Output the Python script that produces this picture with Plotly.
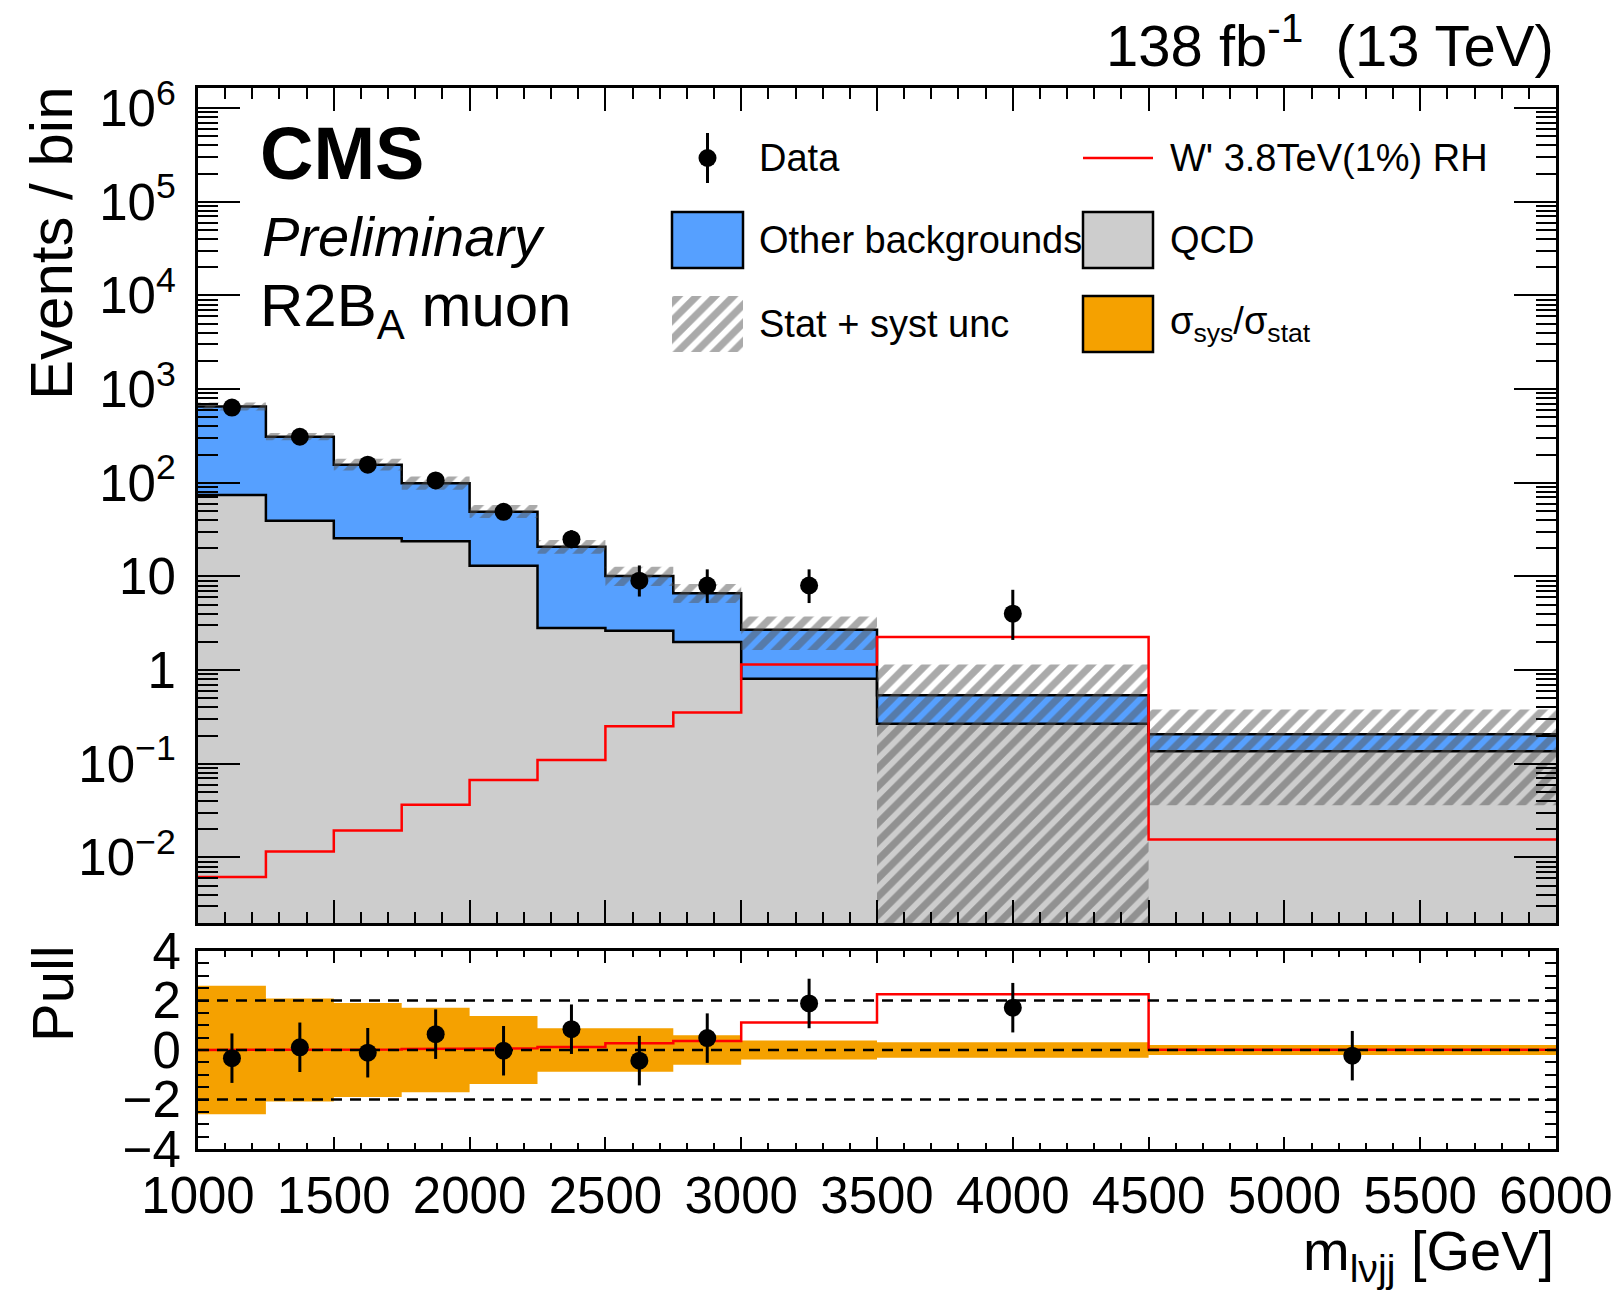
import plotly.graph_objects as go

# ---------------- data ----------------
bin_edges = [1000, 1250, 1500, 1750, 2000, 2250, 2500, 2750, 3000, 3500, 4500, 6000]
qcd = [74.0, 39.3, 25.5, 23.8, 13.0, 2.82, 2.63, 2.00, 0.81, 0.268, 0.136]
total_bkg = [653, 310, 156, 99, 49, 20.7, 10.1, 6.6, 2.69, 0.54, 0.206]
unc_hi = [720, 340, 180, 117, 58, 24.5, 12.7, 8.3, 3.73, 1.15, 0.38]
unc_lo = [590, 285, 135, 84, 42, 17.5, 7.9, 5.2, 1.64, 0.0, 0.036]
signal = [0.0062, 0.0116, 0.0194, 0.0365, 0.067, 0.110, 0.252, 0.352, 1.15, 2.25, 0.0155]
data_counts = [635, 310, 156, 106, 49, 25, 9, 8, 8, 4, 0]
data_err_up = [25.7, 18.6, 13.5, 11.3, 8.0, 6.1, 4.1, 3.9, 3.9, 3.2, 0]
data_err_dn = [24.7, 17.6, 12.5, 10.3, 7.0, 5.0, 2.9, 2.8, 2.8, 1.9, 0]
pull_vals = [-0.33, 0.11, -0.11, 0.64, -0.03, 0.84, -0.43, 0.48, 1.88, 1.71, -0.23]
pull_err = [1.0, 1.0, 1.0, 1.0, 1.0, 1.0, 1.0, 1.0, 1.0, 1.0, 1.0]
sys_over_stat = [2.6, 2.08, 1.9, 1.71, 1.37, 0.88, 0.88, 0.6, 0.38, 0.31, 0.2]
signal_pull = [0.0, 0.005, 0.02, 0.04, 0.07, 0.12, 0.27, 0.36, 1.11, 2.25, 0.01]
pull_ref_lines = [-2, 0, 2]

main_y_tickvals = [1e-2, 1e-1, 1, 10, 1e2, 1e3, 1e4, 1e5, 1e6]
main_y_ticktext = ["10<sup>\u22122</sup>", "10<sup>\u22121</sup>", "1", "10", "10<sup>2</sup>",
                   "10<sup>3</sup>", "10<sup>4</sup>", "10<sup>5</sup>", "10<sup>6</sup>"]

# ---------------- styling ----------------
W, H = 1624, 1298
FONT = "Liberation Sans, Arial, Helvetica, sans-serif"
BLUE = "#56a0ff"
GREY = "#cdcdcd"
ORANGE = "#f5a100"
HATCH = "#555555"
RED = "#ff0000"
FLOOR = 1e-4  # below the log-axis minimum

X0, X1 = 198, 1556          # frame, pixels
MAIN_T, MAIN_B = 87.5, 923
PULL_T, PULL_B = 951, 1149


def px(x):
    return x / W


def py(y):
    return 1 - y / H


def step(edges, vals):
    xs, ys = [], []
    for i, v in enumerate(vals):
        xs += [edges[i], edges[i + 1]]
        ys += [v, v]
    return xs, ys


def band(edges, lo, hi):
    xh, yh = step(edges, hi)
    xl, yl = step(edges, lo)
    return xh + xl[::-1] + [xh[0]], yh + yl[::-1] + [yh[0]]


centers = [(bin_edges[i] + bin_edges[i + 1]) / 2 for i in range(len(bin_edges) - 1)]
n = len(centers)
HATCH_PATTERN = dict(shape="/", fgcolor=HATCH, bgcolor="rgba(0,0,0,0)", size=13, solidity=0.55)
MARKER = dict(color="black", size=18)

fig = go.Figure()

# ---- main pad ----
bx, by = band(bin_edges, [FLOOR] * n, qcd)
fig.add_trace(go.Scatter(x=bx, y=by, fill="toself", fillcolor=GREY, line=dict(width=0),
                         mode="lines", xaxis="x", yaxis="y", showlegend=False))
bx, by = band(bin_edges, qcd, total_bkg)
fig.add_trace(go.Scatter(x=bx, y=by, fill="toself", fillcolor=BLUE, line=dict(width=0),
                         mode="lines", xaxis="x", yaxis="y", showlegend=False))
for vals in (qcd, total_bkg):
    sx, sy = step(bin_edges, vals)
    fig.add_trace(go.Scatter(x=sx, y=sy, mode="lines", line=dict(color="black", width=2.5),
                             xaxis="x", yaxis="y", showlegend=False))
bx, by = band(bin_edges, [max(v, FLOOR) for v in unc_lo], unc_hi)
fig.add_trace(go.Scatter(x=bx, y=by, fill="toself", fillcolor="rgba(0,0,0,0)",
                         fillpattern=HATCH_PATTERN,
                         line=dict(width=0), mode="lines", xaxis="x", yaxis="y", showlegend=False))
sx, sy = step(bin_edges, signal)
fig.add_trace(go.Scatter(x=sx, y=sy, mode="lines", line=dict(color=RED, width=2.5),
                         xaxis="x", yaxis="y", showlegend=False))
keep = [i for i in range(n) if data_counts[i] > 0]
fig.add_trace(go.Scatter(x=[centers[i] for i in keep], y=[data_counts[i] for i in keep],
                         mode="markers", marker=MARKER,
                         error_y=dict(type="data", symmetric=False,
                                      array=[data_err_up[i] for i in keep],
                                      arrayminus=[data_err_dn[i] for i in keep],
                                      color="black", thickness=3, width=0),
                         xaxis="x", yaxis="y", showlegend=False))

# ---- pull pad ----
bx, by = band(bin_edges, [-v for v in sys_over_stat], sys_over_stat)
fig.add_trace(go.Scatter(x=bx, y=by, fill="toself", fillcolor=ORANGE, line=dict(width=0),
                         mode="lines", xaxis="x2", yaxis="y2", showlegend=False))
sx, sy = step(bin_edges, signal_pull)
fig.add_trace(go.Scatter(x=sx, y=sy, mode="lines", line=dict(color=RED, width=2.5),
                         xaxis="x2", yaxis="y2", showlegend=False))
for r in pull_ref_lines:
    fig.add_trace(go.Scatter(x=[bin_edges[0], bin_edges[-1]], y=[r, r], mode="lines",
                             line=dict(color="black", width=2.5, dash="11px,8px"),
                             xaxis="x2", yaxis="y2", showlegend=False))
fig.add_trace(go.Scatter(x=centers, y=pull_vals, mode="markers", marker=MARKER,
                         error_y=dict(type="data", array=pull_err, color="black", thickness=3, width=0),
                         xaxis="x2", yaxis="y2", showlegend=False))

# ---- legend (drawn on a pixel overlay) ----
LEG_ROWS = [158, 240, 324]
LC1_BOX, LC2_BOX = (672, 743), (1083, 1153)
LC1_TXT, LC2_TXT = 757, 1168
fig.add_trace(go.Scatter(x=[(LC1_BOX[0] + LC1_BOX[1]) / 2], y=[LEG_ROWS[0]], mode="markers",
                         marker=MARKER,
                         error_y=dict(type="data", array=[25], color="black", thickness=3, width=0),
                         xaxis="x3", yaxis="y3", showlegend=False))
fig.add_trace(go.Scatter(x=[LC2_BOX[0], LC2_BOX[1]], y=[LEG_ROWS[0], LEG_ROWS[0]], mode="lines",
                         line=dict(color=RED, width=2.5), xaxis="x3", yaxis="y3", showlegend=False))
hy0, hy1 = LEG_ROWS[2] - 28, LEG_ROWS[2] + 28
fig.add_trace(go.Scatter(x=[LC1_BOX[0], LC1_BOX[1], LC1_BOX[1], LC1_BOX[0], LC1_BOX[0]],
                         y=[hy0, hy0, hy1, hy1, hy0], fill="toself", fillcolor="rgba(0,0,0,0)",
                         fillpattern=HATCH_PATTERN,
                         line=dict(width=0), mode="lines", xaxis="x3", yaxis="y3", showlegend=False))
shapes = []
for (bx0, bx1), row, col in ((LC1_BOX, LEG_ROWS[1], BLUE), (LC2_BOX, LEG_ROWS[1], GREY),
                             (LC2_BOX, LEG_ROWS[2], ORANGE)):
    shapes.append(dict(type="rect", xref="paper", yref="paper", x0=px(bx0), x1=px(bx1),
                       y0=py(row + 28), y1=py(row - 28), fillcolor=col,
                       line=dict(color="black", width=2.5)))

LEG_SIZE = 38
annotations = []


def txt(x, y, s, size, xanchor="left", yanchor="middle", angle=0, **kw):
    annotations.append(dict(x=px(x), y=py(y), xref="paper", yref="paper", text=s,
                            showarrow=False, xanchor=xanchor, yanchor=yanchor,
                            textangle=angle, font=dict(family=FONT, size=size, color="black", **kw)))


txt(LC1_TXT, LEG_ROWS[0], "Data", LEG_SIZE)
txt(LC2_TXT, LEG_ROWS[0], "W' 3.8TeV(1%) RH", LEG_SIZE)
txt(LC1_TXT, LEG_ROWS[1], "Other backgrounds", LEG_SIZE)
txt(LC2_TXT, LEG_ROWS[1], "QCD", LEG_SIZE)
txt(LC1_TXT, LEG_ROWS[2], "Stat + syst unc", LEG_SIZE)
txt(LC2_TXT, LEG_ROWS[2], "\u03c3<sub>sys</sub>/\u03c3<sub>stat</sub>", LEG_SIZE)

txt(258, 153, "<b>CMS</b>", 74)
txt(260, 236, "<i>Preliminary</i>", 56)
txt(258, 310, "R2B<sub>A</sub> muon", 60)
txt(X1, 42, "138 fb<sup>-1</sup>\u00a0\u00a0(13 TeV)", 58, xanchor="right")
txt(52, 243, "Events / bin", 60, xanchor="center", angle=-90)
txt(52, 994, "Pull", 58, xanchor="center", angle=-90)
txt(X1, 1254, "m<sub>l\u03bdjj</sub> [GeV]", 56, xanchor="right")

# ---------------- axes ----------------
minor_log = [k * 10.0 ** e for e in range(-3, 7) for k in range(2, 10)]
common_frame = dict(showline=True, linecolor="black", linewidth=3, mirror="ticks",
                    showgrid=False, zeroline=False, ticks="inside", tickcolor="black",
                    automargin=False)
tickfont = dict(family=FONT, size=51, color="black")

fig.update_layout(
    width=W, height=H, margin=dict(l=0, r=0, t=0, b=0, pad=0, autoexpand=False), autosize=False,
    paper_bgcolor="white", plot_bgcolor="rgba(0,0,0,0)", showlegend=False,
    shapes=shapes, annotations=annotations,
    xaxis=dict(domain=[px(X0), px(X1)], range=[bin_edges[0], bin_edges[-1]], anchor="y",
               tick0=1000, dtick=500, ticklen=23, tickwidth=2, showticklabels=False,
               minor=dict(ticks="inside", tick0=1000, dtick=100, ticklen=11, tickwidth=2,
                          tickcolor="black"),
               **common_frame),
    yaxis=dict(domain=[py(MAIN_B), py(MAIN_T)], type="log", range=[-2.70, 6.22], anchor="x",
               tickmode="array", tickvals=main_y_tickvals, ticktext=main_y_ticktext,
               ticklen=42, tickwidth=2, tickfont=tickfont, ticklabelstandoff=9,
               minor=dict(ticks="inside", tickmode="array", tickvals=minor_log, ticklen=20,
                          tickwidth=2, tickcolor="black"),
               **common_frame),
    xaxis2=dict(domain=[px(X0), px(X1)], range=[bin_edges[0], bin_edges[-1]], anchor="y2",
                tick0=1000, dtick=500, ticklen=12, tickwidth=2, tickfont=tickfont,
                ticklabelstandoff=0,
                minor=dict(ticks="inside", tick0=1000, dtick=100, ticklen=6, tickwidth=2,
                           tickcolor="black"),
                **common_frame),
    yaxis2=dict(domain=[py(PULL_B), py(PULL_T)], range=[-4, 4], anchor="x2",
                tick0=-4, dtick=2, ticklen=11, tickwidth=2, tickfont=tickfont,
                ticklabelstandoff=4,
                minor=dict(ticks="inside", dtick=0.5, ticklen=11, tickwidth=2, tickcolor="black"),
                **common_frame),
    xaxis3=dict(domain=[0, 1], range=[0, W], visible=False, anchor="y3", fixedrange=True,
                automargin=False),
    yaxis3=dict(domain=[0, 1], range=[H, 0], visible=False, anchor="x3", fixedrange=True,
                automargin=False),
)

fig.write_html("out.html")
